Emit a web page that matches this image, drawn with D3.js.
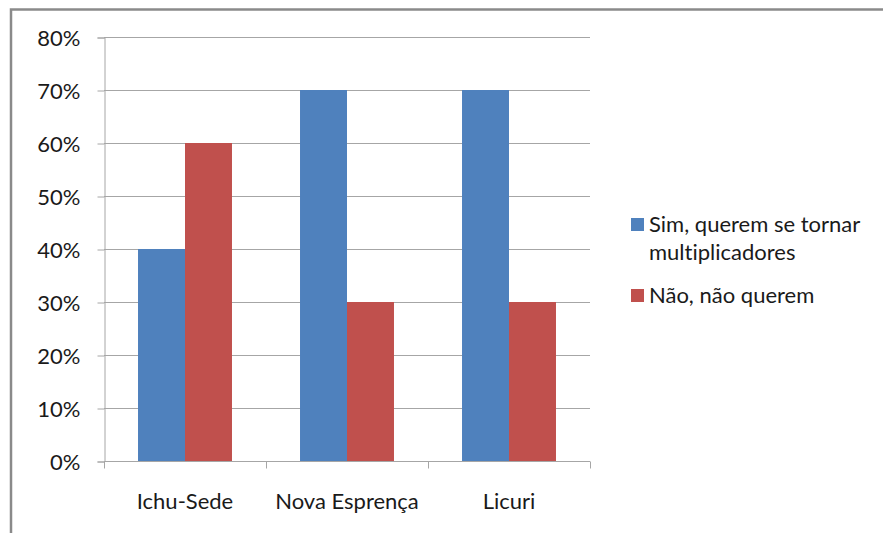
<!DOCTYPE html>
<html>
<head>
<meta charset="utf-8">
<script src="https://cdn.jsdelivr.net/npm/d3@7"></script>
<style>
  html, body { margin: 0; padding: 0; background: #fff; }
  svg { display: block; }
  text { font-family: Lato, "Open Sans", sans-serif; fill: #1a1a1a; font-variant-ligatures: none; }
</style>
</head>
<body>
<svg id="chart" width="883" height="533"></svg>
<script>
// Communities surveyed
const categories = ["Ichu-Sede", "Nova Esprença", "Licuri"];
// Share answering "yes" / "no" (fraction of respondents)
const simValues = [0.40, 0.70, 0.70];
const naoValues = [0.60, 0.30, 0.30];
const seriesNames = ["Sim, querem se tornar multiplicadores", "Não, não querem"];
const seriesColors = ["#4F81BD", "#C0504D"];
const yTicks = [0, 0.1, 0.2, 0.3, 0.4, 0.5, 0.6, 0.7, 0.8];

const FONT = "22px";
const svg = d3.select("#chart");

// Outer chart frame (left and top edges)
svg.append("path")
  .attr("d", "M11,533V9.5H883")
  .attr("fill", "none")
  .attr("stroke", "#8a8a8a")
  .attr("stroke-width", 2.5);

const plot = { left: 104, right: 590, top: 37, bottom: 461 };

const x0 = d3.scaleBand()
  .domain(categories)
  .range([plot.left, plot.right])
  .paddingInner(0.42)
  .paddingOuter(0.21);

const x1 = d3.scaleBand()
  .domain([0, 1])
  .range([0, x0.bandwidth()]);

const y = d3.scaleLinear()
  .domain([0, 0.8])
  .range([plot.bottom, plot.top]);

// Horizontal gridlines
svg.append("g")
  .selectAll("line")
  .data(yTicks.slice(1))
  .join("line")
  .attr("x1", plot.left)
  .attr("x2", plot.right)
  .attr("y1", d => Math.round(y(d)) + 0.5)
  .attr("y2", d => Math.round(y(d)) + 0.5)
  .attr("stroke", "#a6a6a6")
  .attr("stroke-width", 1);

// Bars
const rows = categories.map((c, i) => ({ cat: c, vals: [simValues[i], naoValues[i]] }));
const groups = svg.append("g")
  .selectAll("g")
  .data(rows)
  .join("g")
  .attr("transform", d => `translate(${x0(d.cat)},0)`);

groups.selectAll("rect")
  .data(d => d.vals.map((v, k) => ({ v, k })))
  .join("rect")
  .attr("x", d => x1(d.k))
  .attr("width", x1.bandwidth())
  .attr("y", d => y(d.v))
  .attr("height", d => y(0) - y(d.v))
  .attr("fill", d => seriesColors[d.k]);

// Y axis
const yAxis = d3.axisLeft(y)
  .tickValues(yTicks)
  .tickFormat(d3.format(".0%"))
  .tickSize(7)
  .tickPadding(17);

const gy = svg.append("g")
  .attr("transform", `translate(${plot.left + 0.5},0.5)`)
  .call(yAxis);
gy.select(".domain").attr("stroke", "#a6a6a6");
gy.selectAll(".tick line").attr("stroke", "#a6a6a6");
gy.selectAll(".tick text")
  .style("font-size", FONT)
  .attr("fill", "#1a1a1a")
  .attr("dy", "0.36em");

// X axis: ticks at category boundaries, labels centred in each band
const gx = svg.append("g")
  .attr("transform", `translate(0,${plot.bottom + 0.5})`);
const boundaries = [plot.left, ...categories.slice(1).map(c => x0(c) - x0.step() * x0.paddingInner() / 2), plot.right];
gx.append("line")
  .attr("x1", plot.left)
  .attr("x2", plot.right)
  .attr("stroke", "#a6a6a6");
gx.selectAll("line.tick")
  .data(boundaries)
  .join("line")
  .attr("class", "tick")
  .attr("x1", d => Math.round(d) + 0.5)
  .attr("x2", d => Math.round(d) + 0.5)
  .attr("y1", 0)
  .attr("y2", 7)
  .attr("stroke", "#a6a6a6");
gx.selectAll("text")
  .data(categories)
  .join("text")
  .attr("x", d => x0(d) + x0.bandwidth() / 2)
  .attr("y", 47)
  .attr("text-anchor", "middle")
  .style("font-size", FONT)
  .text(d => d);

// Legend
const legend = svg.append("g");
const legendItems = [
  { lines: ["Sim, querem se tornar", "multiplicadores"], y: 232, color: seriesColors[0] },
  { lines: ["Não, não querem"], y: 303, color: seriesColors[1] }
];
legendItems.forEach(item => {
  legend.append("rect")
    .attr("x", 631)
    .attr("y", item.y - 14)
    .attr("width", 13)
    .attr("height", 13)
    .attr("fill", item.color);
  const t = legend.append("text")
    .attr("x", 649)
    .attr("y", item.y)
    .style("font-size", FONT);
  item.lines.forEach((ln, i) => {
    t.append("tspan")
      .attr("x", 649)
      .attr("dy", i === 0 ? 0 : 28)
      .text(ln);
  });
});
</script>
</body>
</html>
